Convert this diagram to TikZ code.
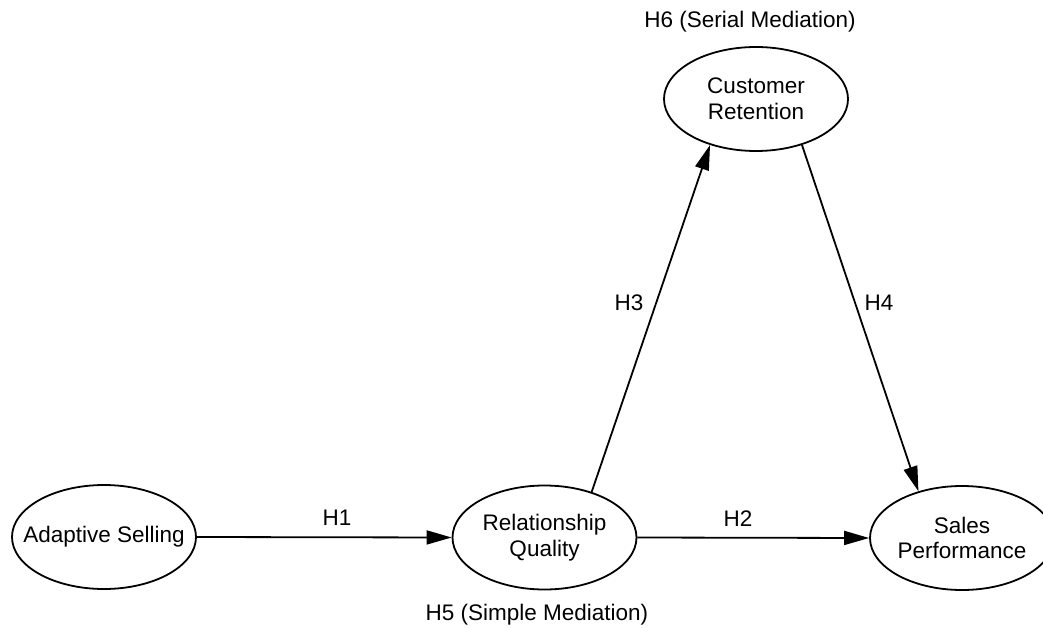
\documentclass[tikz,border=0pt]{standalone}
\usepackage{fontspec}
\setmainfont{Liberation Sans}
\usetikzlibrary{shapes.geometric,arrows.meta}
\begin{document}
\begin{tikzpicture}[x=1pt,y=-1pt,
  construct/.style={ellipse,draw=black,line width=1.8pt,minimum width=184pt,minimum height=104pt,inner sep=0pt,align=center,font=\fontsize{22.5}{25.5}\selectfont},
  hlabel/.style={font=\fontsize{22.5}{25.5}\selectfont,inner sep=0pt},
  path/.style={line width=1.8pt,-{Triangle[length=25pt,width=14pt]}}]
\useasboundingbox (0,0) rectangle (1043,628);
\clip (0,0) rectangle (1043,628);
\node[construct] (as) at (104,537) {\makebox[0pt]{Adaptive Selling}};
\node[construct] (rq) at (544.5,537.5) {Relationship\\Quality};
\node[construct] (sp) at (962,538) {Sales\\Performance};
\node[construct] (cr) at (756,99) {Customer\\Retention};
\draw[path] (as.east) -- (rq.west);
\draw[path] (rq.east) -- (sp.west);
\draw[path] (rq.44) -- (cr.225);
\draw[path] (cr.-45) -- (sp.133);
\node[hlabel] (h1) at (337,518) {H1};
\node[hlabel] (h2) at (738,519) {H2};
\node[hlabel] (h3) at (629,303) {H3};
\node[hlabel] (h4) at (879,303) {H4};
\node[hlabel] (h5) at (537,615) {H5 (Simple Mediation)};
\node[hlabel] (h6) at (750,22) {H6 (Serial Mediation)};
\end{tikzpicture}
\end{document}
